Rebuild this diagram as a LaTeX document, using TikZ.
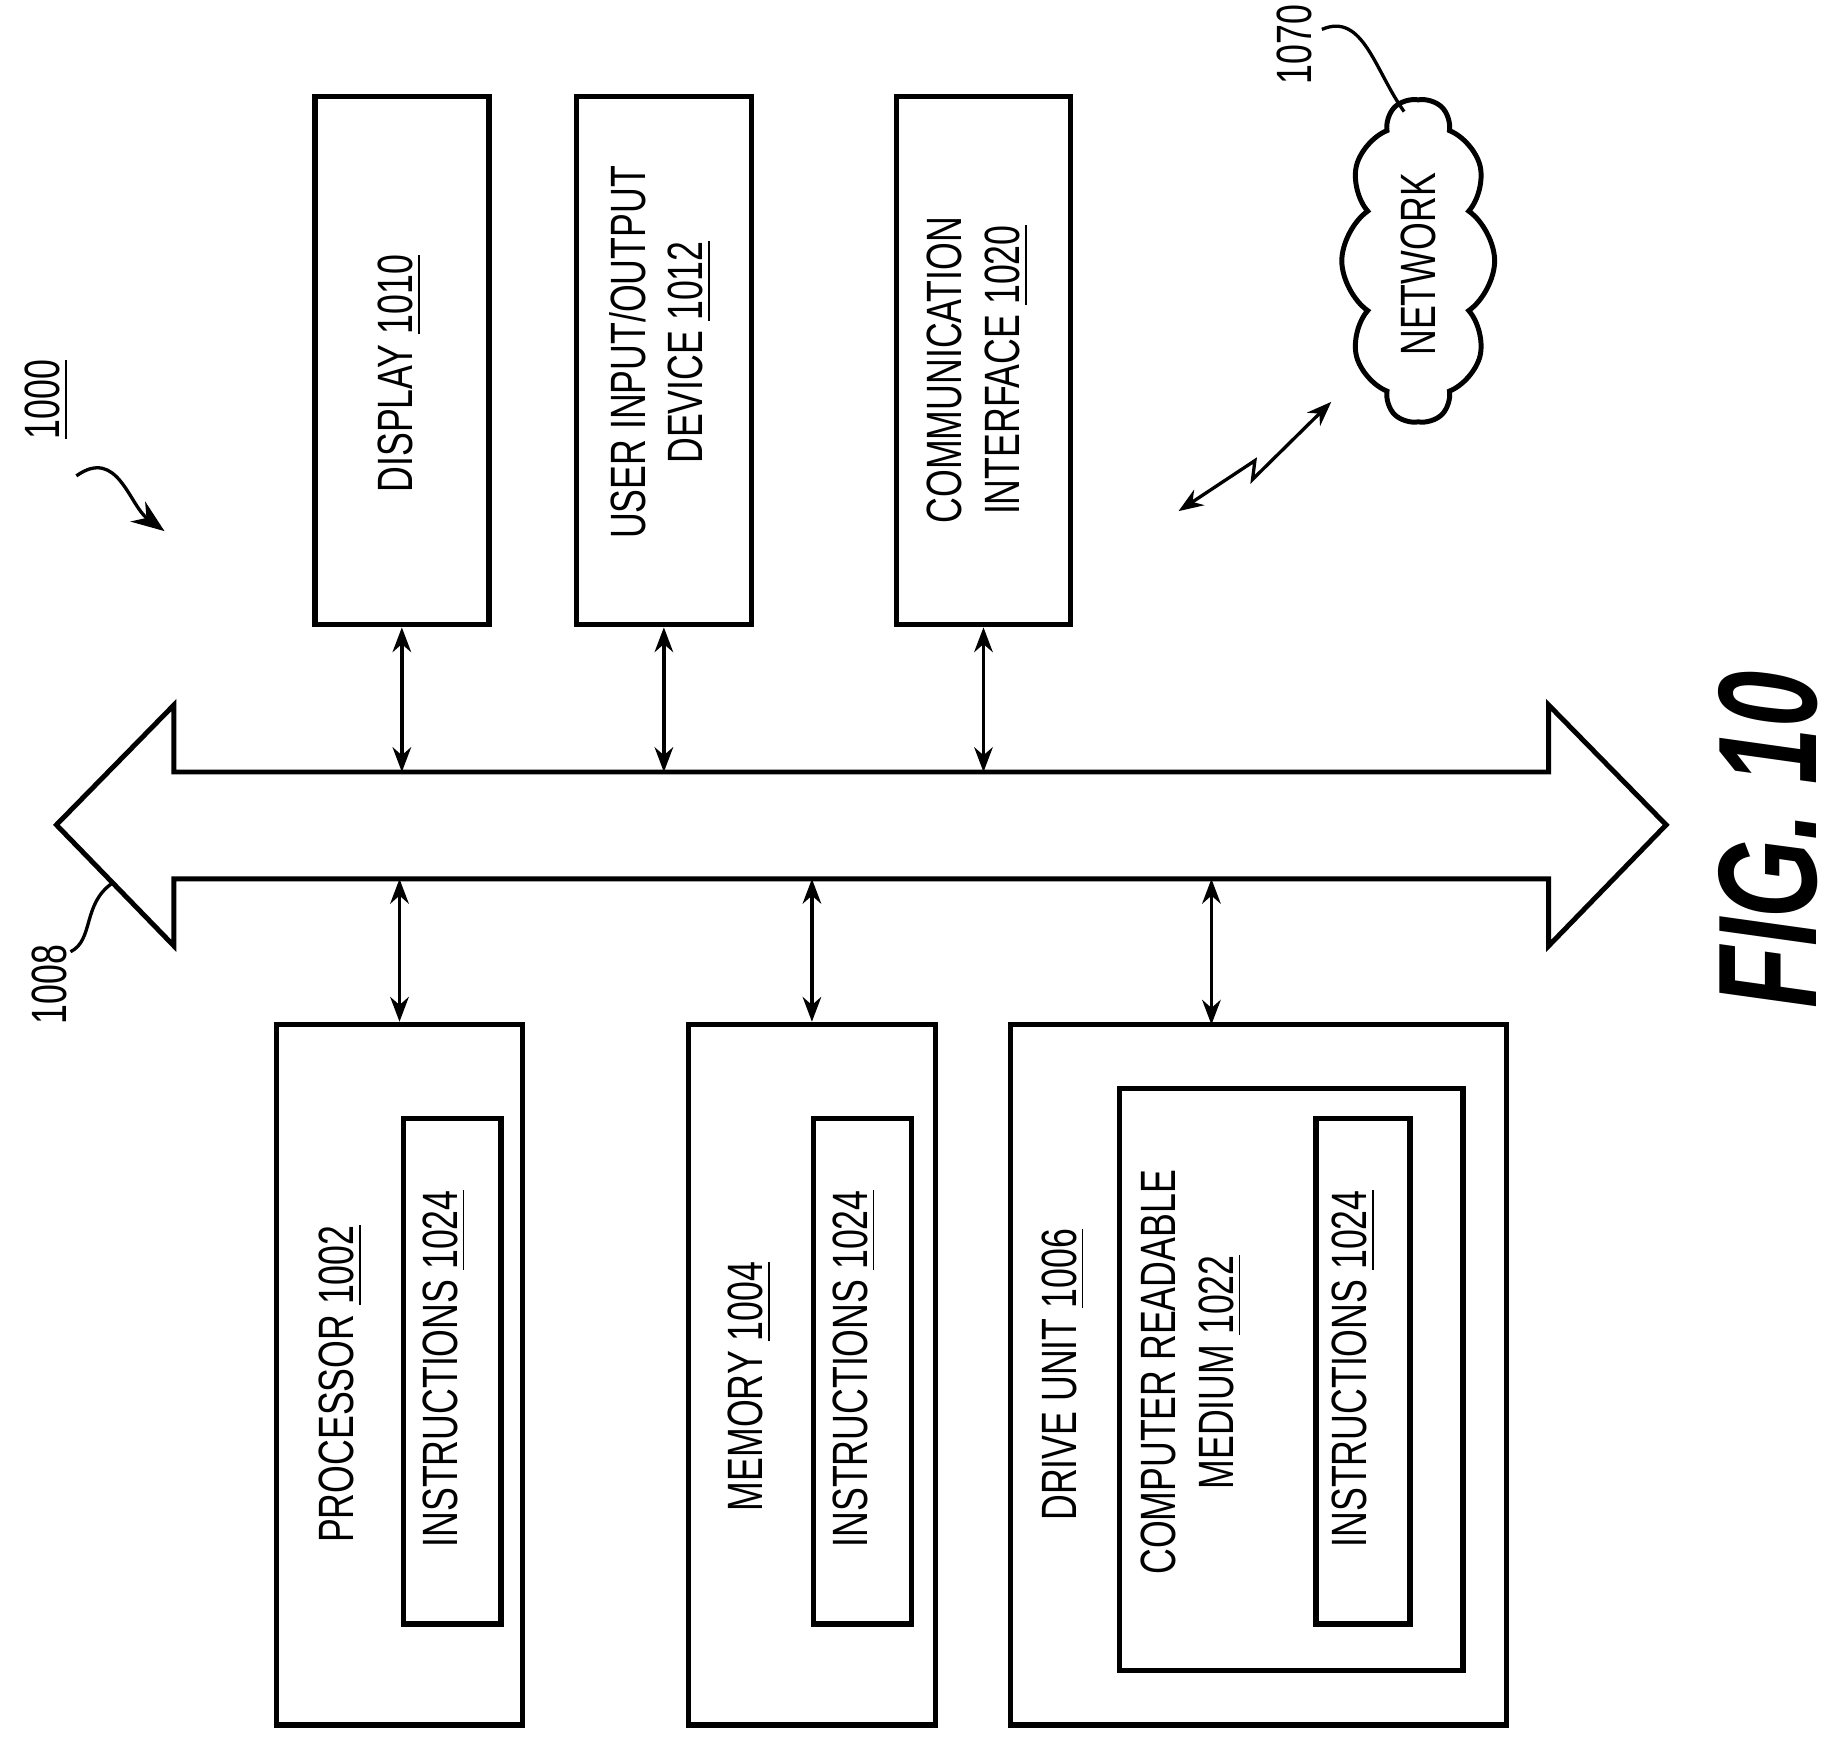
\documentclass[tikz,border=0pt]{standalone}
\usepackage{fontspec}
\setmainfont{Liberation Sans}[FakeStretch=0.72]
\usetikzlibrary{shapes.symbols, arrows.meta}
\tikzset{
  box/.style={draw, line width=1.3pt, rectangle},
  lbl/.style={rotate=90, align=center, font=\fontsize{12}{14}\selectfont},
  link/.style={{Stealth[length=6pt]}-{Stealth[length=6pt]}, line width=0.8pt},
}
\begin{document}
\begin{tikzpicture}[x=0.01cm, y=-0.01cm]
        \useasboundingbox (0,0) rectangle (1560,1484);

        % Top row
        \node[box, minimum width=1.48cm, minimum height=4.49cm] (disp) at (342,307) {};
        \node[box, minimum width=1.49cm, minimum height=4.49cm] (uio) at (565,307) {};
        \node[box, minimum width=1.48cm, minimum height=4.49cm] (comm) at (837,307) {};
        \node[lbl] (displbl) at (340,318) {DISPLAY \underline{1010}};
        \node[lbl] (uiolbl) at (562,300) {USER INPUT/OUTPUT\\DEVICE \underline{1012}};
        \node[lbl] (commlbl) at (832,315) {COMMUNICATION\\INTERFACE \underline{1020}};

        % Network
        \node[cloud, cloud puffs=10, cloud puff arc=110, draw, line width=1.2pt, rotate=90,
              minimum width=2.75cm, minimum height=1.3cm] (net) at (1207,222) {};
        \node[lbl] (netlbl) at (1207,225) {NETWORK};
        \node[lbl] (n1070) at (1102,38) {1070};
        \draw[line width=0.8pt] (1125,25) .. controls (1160,10) and (1170,60) .. (1195,95);
        \draw[link] (1003,435) -- (1068,392) -- (1066,408) -- (1133,342);

        % Bus
        \draw[line width=1.2pt] (148,657) -- (1318,657) -- (1318,600) -- (1418,702) -- (1318,805)
            -- (1318,748) -- (148,748) -- (148,805) -- (48,702) -- (148,600) -- cycle;
        \coordinate (bustop) at (0,657);
        \coordinate (busbot) at (0,748);
        \node[lbl] (n1008) at (42,838) {1008};
        \draw[line width=0.8pt] (60,810) .. controls (80,800) and (70,770) .. (95,752);

        % Bottom row
        \node[box, minimum width=2.09cm, minimum height=5.96cm] (proc) at (340,1170) {};
        \node[box, minimum width=0.83cm, minimum height=4.3cm] (pinst) at (385,1167) {};
        \node[box, minimum width=2.1cm, minimum height=5.96cm] (mem) at (691,1170) {};
        \node[box, minimum width=0.83cm, minimum height=4.3cm] (minst) at (734,1167) {};
        \node[box, minimum width=4.22cm, minimum height=5.96cm] (drive) at (1071,1170) {};
        \node[box, minimum width=2.92cm, minimum height=4.95cm] (crm) at (1099,1174) {};
        \node[box, minimum width=0.8cm, minimum height=4.3cm] (dinst) at (1160,1167) {};
        \node[lbl] (proclbl) at (290,1178) {PROCESSOR \underline{1002}};
        \node[lbl] (pinstlbl) at (378,1165) {INSTRUCTIONS \underline{1024}};
        \node[lbl] (memlbl) at (638,1180) {MEMORY \underline{1004}};
        \node[lbl] (minstlbl) at (727,1165) {INSTRUCTIONS \underline{1024}};
        \node[lbl] (drivelbl) at (905,1170) {DRIVE UNIT \underline{1006}};
        \node[lbl] (crmlbl) at (1014,1168) {COMPUTER READABLE\\MEDIUM \underline{1022}};
        \node[lbl] (dinstlbl) at (1152,1165) {INSTRUCTIONS \underline{1024}};

        % Bus links
        \draw[link] (disp.south) -- (disp.south |- bustop);
        \draw[link] (uio.south) -- (uio.south |- bustop);
        \draw[link] (comm.south) -- (comm.south |- bustop);
        \draw[link] (proc.north) -- (proc.north |- busbot);
        \draw[link] (mem.north) -- (mem.north |- busbot);
        \draw[link] (1031,872) -- (1031,748);

        % Reference numeral and figure title
        \node[lbl] (n1000) at (40,340) {\underline{1000}};
        \draw[-{Stealth[length=8pt]}, line width=0.8pt] (65,405) .. controls (100,380) and (110,430) .. (140,452);
        \node[rotate=90, font=\fontsize{34}{38}\bfseries\itshape] (fig) at (1505,715) {FIG. 10};
\end{tikzpicture}
\end{document}
